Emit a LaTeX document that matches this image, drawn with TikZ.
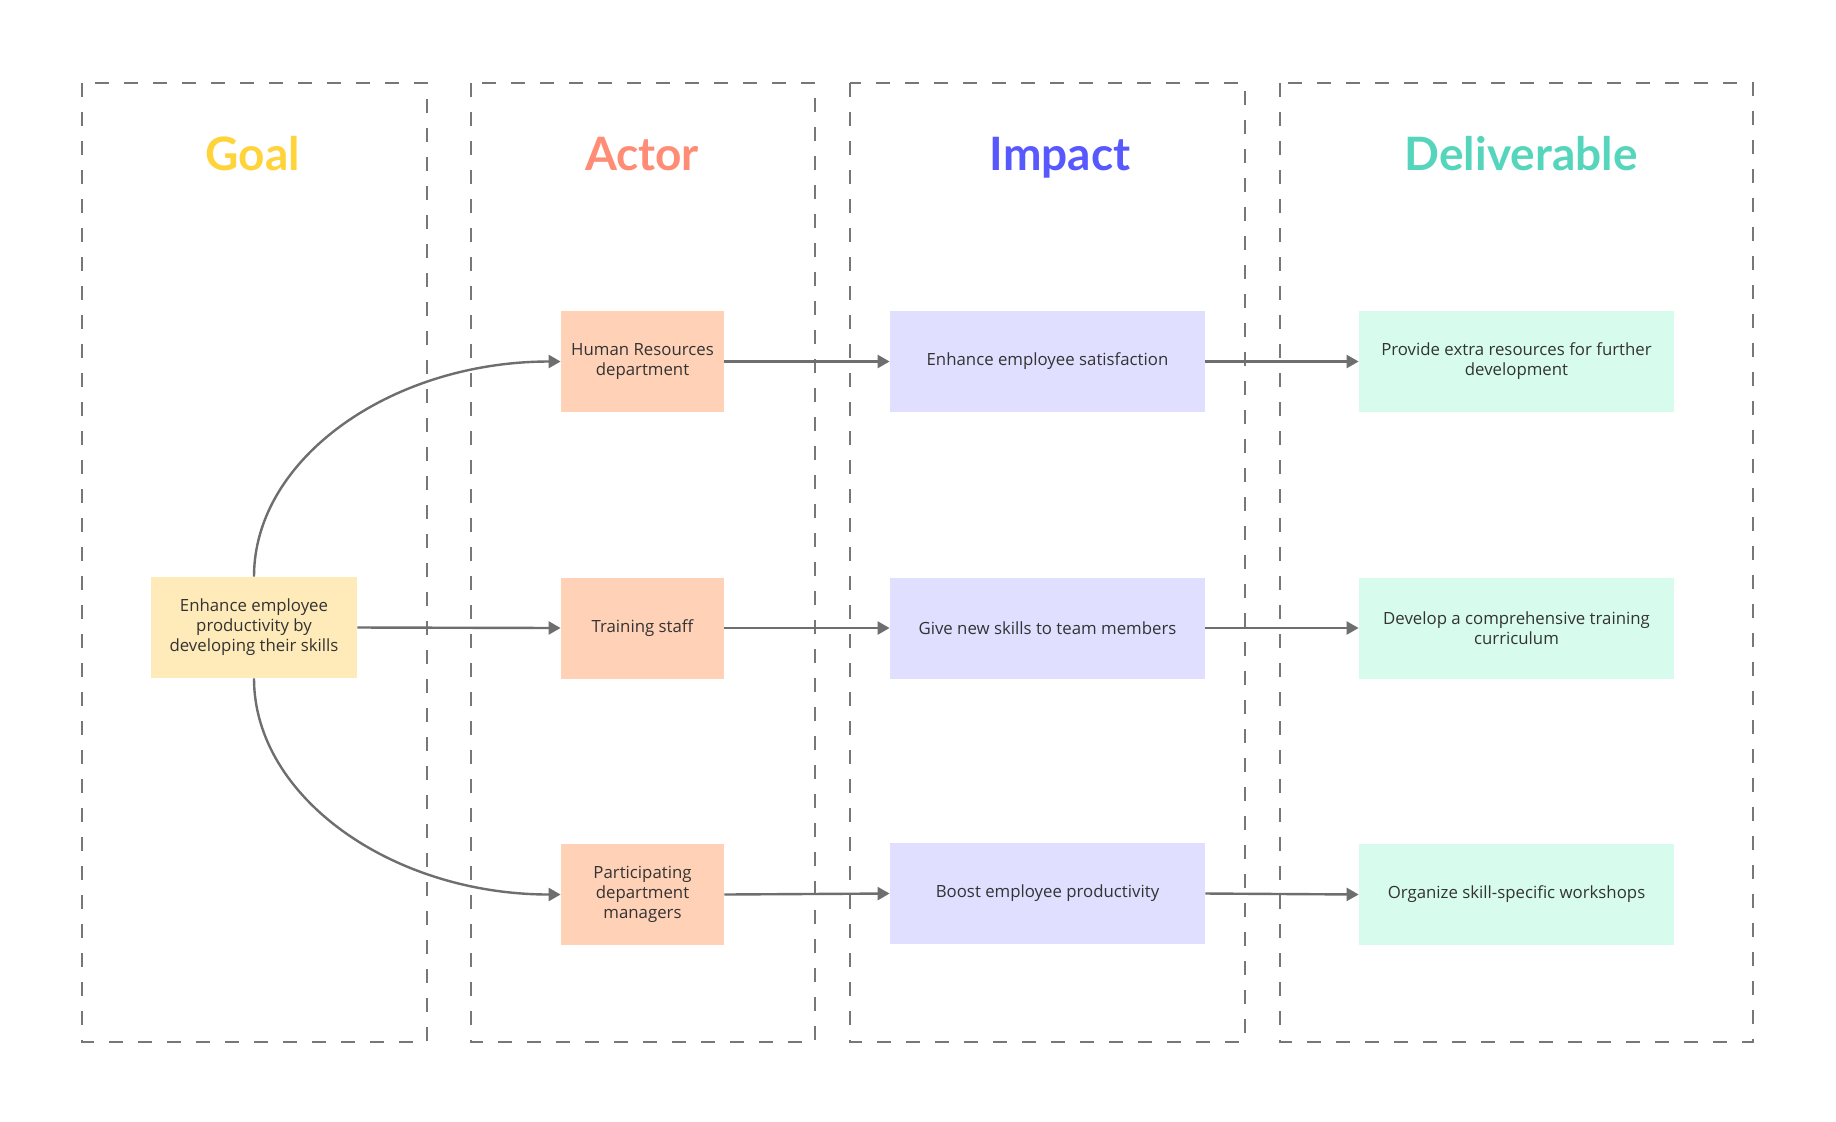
\documentclass[tikz,border=0pt]{standalone}
\usepackage{fontspec}
\setmainfont{Open Sans}
\newfontfamily\headfont{Lato}
\usetikzlibrary{arrows.meta}
\definecolor{framegray}{HTML}{777777}
\definecolor{linegray}{HTML}{6E6E6E}
\definecolor{txtgray}{HTML}{333333}
\definecolor{goalc}{HTML}{FFD43B}
\definecolor{actorc}{HTML}{FF8C75}
\definecolor{impactc}{HTML}{5858FF}
\definecolor{delivc}{HTML}{55D6BC}
\definecolor{goalf}{HTML}{FFEBBA}
\definecolor{actorf}{HTML}{FFD1B7}
\definecolor{impactf}{HTML}{E0DFFF}
\definecolor{delivf}{HTML}{D7FCED}
\tikzset{
  colframe/.style={draw=framegray, line width=1pt, dash pattern=on 7pt off 7.5pt},
  header/.style={font=\headfont\fontsize{23}{27}\selectfont\bfseries, anchor=base},
  box/.style={rectangle, inner sep=0pt, minimum height=50.5pt, align=center,
    text=txtgray, font=\fontsize{8.4}{10}\selectfont},
  goalbox/.style={box, fill=goalf, minimum width=103pt},
  actorbox/.style={box, fill=actorf, minimum width=81.5pt},
  impactbox/.style={box, fill=impactf, minimum width=157.5pt},
  delivbox/.style={box, fill=delivf, minimum width=157.5pt},
  conn/.style={draw=linegray, line width=1.2pt, -{Triangle[length=6pt,width=6.5pt]}}
}
\begin{document}
\begin{tikzpicture}[x=0.5pt,y=-0.5pt]
\useasboundingbox (0,0) rectangle (1836,1121);
\fill[white] (0,0) rectangle (1836,1121);
% column frames
\draw[colframe] (82,83) rectangle (427,1042);
\draw[colframe] (471,83) rectangle (815,1042);
\draw[colframe] (850,83) rectangle (1245,1042);
\draw[colframe] (1280,83) rectangle (1753,1042);
% headers
\node[header, text=goalc] (hgoal) at (253,170) {Goal};
\node[header, text=actorc] (hactor) at (642,170) {Actor};
\node[header, text=impactc] (himpact) at (1060,170) {Impact};
\node[header, text=delivc] (hdeliv) at (1521,170) {Deliverable};
% goal
\node[goalbox] (goal) at (254,627.5) {Enhance employee\\productivity by\\developing their skills};
% actors
\node[actorbox] (a1) at (642.5,361.5) {Human Resources\\department};
\node[actorbox] (a2) at (642.5,628) {Training staff};
\node[actorbox] (a3) at (642.5,894.5) {Participating\\department\\managers};
% impacts
\node[impactbox] (i1) at (1047.5,361.5) {Enhance employee satisfaction};
\node[impactbox] (i2) at (1047.5,628) {Give new skills to team members};
\node[impactbox] (i3) at (1047.5,893.5) {Boost employee productivity};
% deliverables
\node[delivbox] (d1) at (1516.5,361.5) {Provide extra resources for further\\development};
\node[delivbox] (d2) at (1516.5,628) {Develop a comprehensive training\\curriculum};
\node[delivbox] (d3) at (1516.5,894.5) {Organize skill-specific workshops};
% connectors
\draw[conn] (goal.north) .. controls (254,458) and (392,361.5) .. (a1.west);
\draw[conn] (goal.south) .. controls (254,797) and (392,894.5) .. (a3.west);
\draw[conn] (goal.east) -- (a2.west);
\draw[conn] (a1.east) -- (i1.west);
\draw[conn] (a2.east) -- (i2.west);
\draw[conn] (a3.east) -- (i3.west);
\draw[conn] (i1.east) -- (d1.west);
\draw[conn] (i2.east) -- (d2.west);
\draw[conn] (i3.east) -- (d3.west);
\end{tikzpicture}
\end{document}
